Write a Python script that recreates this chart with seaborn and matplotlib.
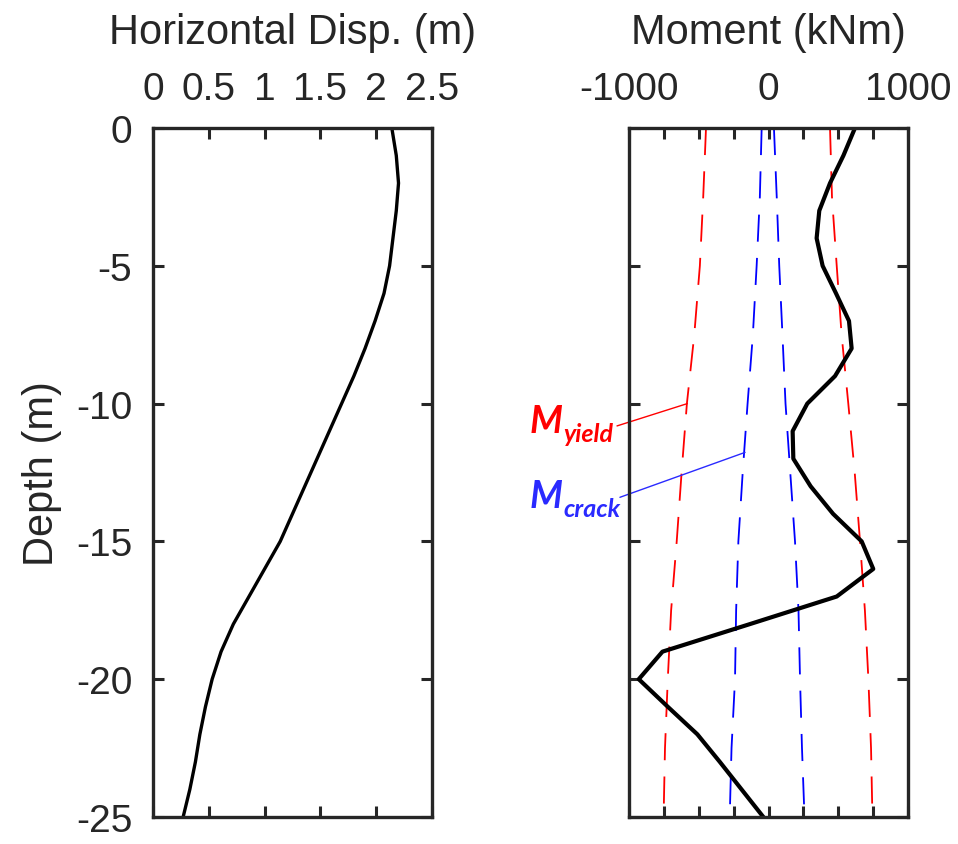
import matplotlib
matplotlib.use("Agg")
import matplotlib.pyplot as plt
import seaborn as sns
import pandas as pd

# ---------------- data ----------------
depth_disp = [0, -1, -2, -3, -4, -5, -6, -7, -8, -9, -10, -11, -12, -13,
              -14, -15, -16, -17, -18, -19, -20, -21, -22, -23, -24, -25]
disp = [2.14, 2.18, 2.20, 2.18, 2.15, 2.12, 2.07, 1.99, 1.90, 1.80, 1.69,
        1.58, 1.47, 1.36, 1.25, 1.14, 1.00, 0.86, 0.72, 0.61, 0.53, 0.47,
        0.42, 0.38, 0.33, 0.27]

depth_moment = [0, -1, -2, -3, -4, -5, -6, -7, -8, -9, -10, -11, -12, -13,
                -14, -15, -16, -17, -18, -19, -20, -21, -22, -23, -24, -25]
moment = [620, 537, 441, 364, 345, 388, 484, 577, 596, 477, 278, 173, 178,
          302, 463, 668, 751, 489, -133, -760, -930, -722, -510, -349, -193,
          -37]

depth_lim = [0, -2.5, -5, -7.5, -10, -12.5, -15, -17.5, -20, -22.5, -25]
yield_neg = [-448, -468, -492, -532, -585, -623, -658, -698, -722, -742, -752]
yield_pos = [441, 455, 489, 524, 572, 618, 656, 691, 716, 735, 745]
crack_neg = [-49, -62, -85, -112, -150, -185, -216, -232, -240, -265, -278]
crack_pos = [39, 59, 77, 100, 122, 156, 190, 215, 226, 240, 258]

disp_ticks = [0, 0.5, 1, 1.5, 2, 2.5]
disp_ticklabels = ["0", "0.5", "1", "1.5", "2", "2.5"]
moment_ticks = [-1000, -750, -500, -250, 0, 250, 500, 750, 1000]
moment_ticklabels = ["-1000", "", "", "", "0", "", "", "", "1000"]
depth_ticks = [0, -5, -10, -15, -20, -25]
depth_ticklabels = ["0", "-5", "-10", "-15", "-20", "-25"]

# ---------------- style ----------------
sns.set_theme(style="white")
plt.rcParams["font.family"] = ["Liberation Sans", "DejaVu Sans"]
AX_COLOR = "#262626"

fig = plt.figure(figsize=(9.58, 8.45), dpi=100)
ax1 = fig.add_axes([153 / 958, 1 - 818 / 845, 279 / 958, 689 / 845])
ax2 = fig.add_axes([629 / 958, 1 - 818 / 845, 279 / 958, 689 / 845])

df_disp = pd.DataFrame({"disp": disp, "depth": depth_disp})
sns.lineplot(data=df_disp, x="disp", y="depth", sort=False, estimator=None,
             color="black", linewidth=2.4, ax=ax1)

df_lim = pd.DataFrame({"depth": depth_lim, "yn": yield_neg, "yp": yield_pos,
                       "cn": crack_neg, "cp": crack_pos})
dash = (0, (15, 9))
for col, c in [("yn", "#ff0000"), ("yp", "#ff0000"),
               ("cn", "#0000ff"), ("cp", "#0000ff")]:
    sns.lineplot(data=df_lim, x=col, y="depth", sort=False, estimator=None,
                 color=c, linewidth=1.3, ax=ax2, linestyle=dash)

df_m = pd.DataFrame({"moment": moment, "depth": depth_moment})
sns.lineplot(data=df_m, x="moment", y="depth", sort=False, estimator=None,
             color="black", linewidth=3.0, ax=ax2)

for ax, xt, xtl, xlim, xlabel in [
        (ax1, disp_ticks, disp_ticklabels, (0, 2.5), "Horizontal Disp. (m)"),
        (ax2, moment_ticks, moment_ticklabels, (-1000, 1000), "Moment (kNm)")]:
    ax.set_xlim(*xlim)
    ax.set_ylim(-25, 0)
    ax.set_xticks(xt)
    ax.set_xticklabels(xtl)
    ax.set_yticks(depth_ticks)
    ax.set_yticklabels(depth_ticklabels)
    ax.xaxis.set_label_position("top")
    ax.set_xlabel(xlabel, fontsize=30, color=AX_COLOR, labelpad=20)
    ax.set_ylabel("")
    ax.tick_params(axis="both", direction="in", length=8, width=2.2,
                   colors=AX_COLOR, labelsize=28, pad=15,
                   top=True, bottom=True, left=True, right=True)
    ax.tick_params(axis="x", labeltop=True, labelbottom=False)
    for s in ax.spines.values():
        s.set_color(AX_COLOR)
        s.set_linewidth(2.4)
        s.set_visible(True)

ax2.tick_params(axis="y", labelleft=False)
ax1.set_ylabel("Depth (m)", fontsize=30, color=AX_COLOR, labelpad=10)

# ---------------- annotations ----------------
ax2.plot([-1086, -582], [-10.81, -10.0], color="#ff0000", lw=1.0,
         clip_on=False)
ax2.plot([-1065, -168], [-13.4, -11.77], color="#2a2aff", lw=1.0,
         clip_on=False)

afont = ["Lato", "DejaVu Sans"]
ax2.text(-1710, -11.04, "M", color="#ff0000", fontsize=27,
         fontweight="bold", fontstyle="italic", family=afont,
         ha="left", va="baseline", clip_on=False)
ax2.text(-1473, -11.35, "yield", color="#ff0000", fontsize=18,
         fontweight="bold", fontstyle="italic", family=afont,
         ha="left", va="baseline", clip_on=False)
ax2.text(-1710, -13.76, "M", color="#2a2aff", fontsize=27,
         fontweight="bold", fontstyle="italic", family=afont,
         ha="left", va="baseline", clip_on=False)
ax2.text(-1473, -14.07, "crack", color="#2a2aff", fontsize=18,
         fontweight="bold", fontstyle="italic", family=afont,
         ha="left", va="baseline", clip_on=False)

fig.savefig("out.png", dpi=100, facecolor="white")
